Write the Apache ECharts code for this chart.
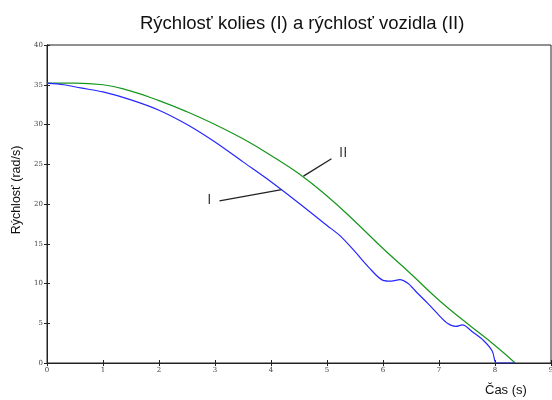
<!DOCTYPE html>
<html>
<head>
    <meta charset="utf-8">
    <title>index</title>
    <style>
        html, body { margin: 0; padding: 0; background: #fff; }
        #container { width: 552px; height: 400px; }
    </style>
</head>
<body>
    <div id="container"></div>
<script src="https://cdn.jsdelivr.net/npm/echarts@6/dist/echarts.min.js"></script>
<script type="text/javascript">
    // rychlost kolies (I) - cas, hodnota
    var casKolesa = [0, 0.3, 0.6, 1.0, 1.5, 2.0, 2.5, 3.0, 3.5, 4.0, 4.5, 5.0, 5.25, 5.5, 5.75, 6.0, 6.15, 6.3, 6.45, 6.6, 6.8, 7.0, 7.15, 7.3, 7.42, 7.6, 7.8, 7.95, 8.0, 8.02, 8.36];
    var rychlostKolesa = [35.2, 35.0, 34.6, 34.1, 33.1, 31.8, 30.0, 27.8, 25.3, 22.8, 20.1, 17.3, 15.9, 14.0, 12.0, 10.4, 10.3, 10.5, 10.0, 8.9, 7.5, 6.0, 5.0, 4.6, 4.8, 3.9, 2.8, 1.5, 0.2, 0, 0];

    // rychlost vozidla (II)
    var casVozidla = [0, 0.5, 1.0, 1.5, 2.0, 2.5, 3.0, 3.5, 4.0, 4.5, 5.0, 5.5, 6.0, 6.5, 7.0, 7.5, 8.0, 8.36];
    var rychlostVozidla = [35.2, 35.2, 35.0, 34.2, 33.0, 31.6, 30.0, 28.2, 26.1, 23.8, 21.0, 17.8, 14.4, 11.2, 7.9, 5.0, 2.2, 0];

    // popisky I / II a ich ciary
    var popisky = ['I', 'II'];
    var popiskyPoloha = [[2.90, 20.5], [5.29, 26.4]];
    var ciaraI = [[3.08, 20.4], [4.19, 21.8]];
    var ciaraII = [[5.08, 25.7], [4.58, 23.5]];

    var xTicks = [0, 1, 2, 3, 4, 5, 6, 7, 8, 9];
    var yTicks = [0, 5, 10, 15, 20, 25, 30, 35, 40];

    function pary(xs, ys) {
        return xs.map(function (x, i) { return [x, ys[i]]; });
    }

    var dom = document.getElementById("container");
    var myChart = echarts.init(dom, null, { renderer: 'canvas' });

    var tickLabel = { fontSize: 7, color: '#444', fontFamily: 'DejaVu Serif' };

    var option = {
        animation: false,
        backgroundColor: '#fff',
        title: {
            text: 'Rýchlosť kolies (I) a rýchlosť vozidla (II)',
            left: 135,
            top: 9,
            textStyle: { fontSize: 18.5, fontWeight: 'normal', color: '#111', fontFamily: 'Liberation Sans' }
        },
        grid: {
            left: 47, right: 1, top: 45, bottom: 37,
            outerBoundsMode: 'none',
            containLabel: false,
            show: true, borderColor: '#222', borderWidth: 1
        },
        xAxis: [{
            type: 'value',
            min: xTicks[0], max: xTicks[xTicks.length - 1], interval: 1,
            name: 'Čas (s)',
            nameLocation: 'end',
            nameGap: -66,
            nameTextStyle: { fontSize: 13, color: '#111', fontFamily: 'Liberation Sans', verticalAlign: 'top', padding: [21, 0, 0, 0] },
            axisLine: { lineStyle: { color: '#222' } },
            axisTick: { inside: true, length: 3, lineStyle: { color: '#222' } },
            axisLabel: Object.assign({ margin: 4 }, tickLabel),
            splitLine: { show: false }
        }, {
            type: 'value', position: 'top',
            min: xTicks[0], max: xTicks[xTicks.length - 1], interval: 1,
            axisLine: { lineStyle: { color: '#222' } },
            axisTick: { inside: true, length: 3, lineStyle: { color: '#222' } },
            axisLabel: { show: false },
            splitLine: { show: false }
        }],
        yAxis: [{
            type: 'value',
            min: yTicks[0], max: yTicks[yTicks.length - 1], interval: 5,
            name: 'Rýchlosť (rad/s)',
            nameLocation: 'middle',
            nameGap: 24,
            nameTextStyle: { fontSize: 12.5, color: '#111', fontFamily: 'Liberation Sans', padding: [0, 0, 0, 28] },
            axisLine: { show: true, lineStyle: { color: '#222' } },
            axisTick: { show: true, inside: true, length: 3, lineStyle: { color: '#222' } },
            axisLabel: Object.assign({ margin: 4 }, tickLabel),
            splitLine: { show: false }
        }, {
            type: 'value', position: 'right',
            min: yTicks[0], max: yTicks[yTicks.length - 1], interval: 5,
            axisLine: { show: true, lineStyle: { color: '#222' } },
            axisTick: { show: true, inside: true, length: 3, lineStyle: { color: '#222' } },
            axisLabel: { show: false },
            splitLine: { show: false }
        }],
        series: [{
            name: 'II',
            type: 'line',
            data: pary(casVozidla, rychlostVozidla),
            smooth: true,
            symbol: 'none',
            lineStyle: { color: '#17961c', width: 1.2 },
            z: 3
        }, {
            name: 'I',
            type: 'line',
            data: pary(casKolesa, rychlostKolesa),
            smooth: 0.3,
            symbol: 'none',
            lineStyle: { color: '#2626ff', width: 1.2 },
            z: 4
        }, {
            type: 'line',
            data: ciaraI,
            symbol: 'none',
            silent: true,
            lineStyle: { color: '#222', width: 1.3 }
        }, {
            type: 'line',
            data: ciaraII,
            symbol: 'none',
            silent: true,
            lineStyle: { color: '#222', width: 1.3 }
        }, {
            type: 'scatter',
            symbolSize: 0,
            silent: true,
            data: popiskyPoloha.map(function (p, i) { return { value: p, name: popisky[i] }; }),
            label: {
                show: true,
                position: 'inside',
                formatter: '{b}',
                fontSize: 15,
                color: '#111',
                fontFamily: 'Liberation Sans'
            }
        }]
    };

    if (option && typeof option === "object") {
        myChart.setOption(option, true);
    }
</script>
</body>
</html>
